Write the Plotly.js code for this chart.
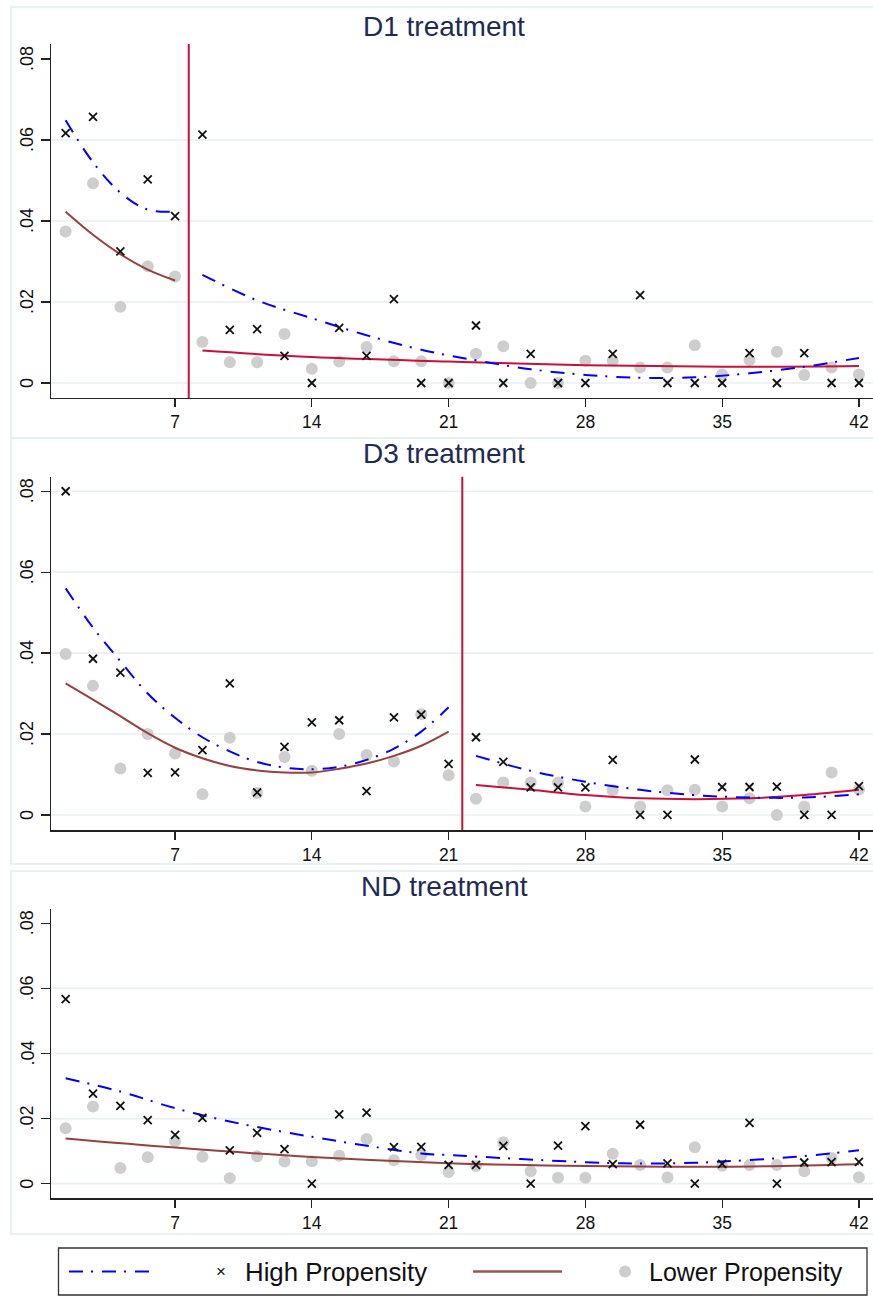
<!DOCTYPE html>
<html>
<head>
<meta charset="utf-8">
<script src="https://cdn.plot.ly/plotly-3.0.1.min.js"></script>
<style>html,body{margin:0;padding:0;background:#fff;}#chart{width:873px;height:1300px;}</style>
</head>
<body>
<div id="chart"></div>
<script>
// ---------- data ----------
const days = [1.4, 2.8, 4.2, 5.6, 7.0, 8.4, 9.8, 11.2, 12.6, 14.0, 15.4, 16.8, 18.2, 19.6, 21.0,
              22.4, 23.8, 25.2, 26.6, 28.0, 29.4, 30.8, 32.2, 33.6, 35.0, 36.4, 37.8, 39.2, 40.6, 42.0];
const xTickVals = [7, 14, 21, 28, 35, 42];
const yTickVals = [0, 0.02, 0.04, 0.06, 0.08];
const yTickText = ["0", ".02", ".04", ".06", ".08"];
const panelTitles = ["D1 treatment", "D3 treatment", "ND treatment"];
const seriesNames = ["High Propensity", "Lower Propensity"];

// D1 treatment
const d1High = [0.0617,0.0657,0.0325,0.0503,0.0412,0.0613,0.0131,0.0133,0.0067,0,0.0136,0.0067,0.0207,0,0,
                0.0142,0,0.0072,0,0,0.0072,0.0217,0,0,0,0.0074,0,0.0074,0,0];
const d1Low  = [0.0374,0.0493,0.0188,0.0288,0.0263,0.0101,0.0051,0.0051,0.0121,0.0035,0.0053,0.0089,0.0054,0.0054,0,
                0.0072,0.0091,0,0,0.0055,0.0055,0.0038,0.0038,0.0093,0.0021,0.0057,0.0077,0.0020,0.0038,0.0021];
const d1Cut = 7.7;
const d1FitPreX      = [1.4, 2.8, 4.2, 5.6, 7.0];
const d1FitHighPre   = [0.0649, 0.0545, 0.0470, 0.0428, 0.0423];
const d1FitLowPre    = [0.0423, 0.0366, 0.0318, 0.0280, 0.0253];
const d1FitHighPostX = [8.4, 11.2, 14, 16.8, 19.6, 22.4, 25.2, 28, 30.8, 33.6, 36.4, 39.2, 42];
const d1FitHighPost  = [0.0267, 0.0204, 0.0160, 0.0118, 0.0082, 0.0056, 0.0034, 0.0020, 0.0013, 0.0014, 0.0024, 0.0040, 0.0062];
const d1FitLowPostX  = [8.4, 14, 21, 28, 35, 42];
const d1FitLowPost   = [0.0080, 0.0064, 0.0053, 0.0044, 0.0040, 0.0042];

// D3 treatment
const d3High = [0.080,0.0386,0.0352,0.0104,0.0105,0.0160,0.0325,0.0056,0.0168,0.0229,0.0234,0.0059,0.0241,0.0248,0.0126,
                0.0192,0.0131,0.0068,0.0068,0.0068,0.0136,0,0,0.0137,0.0069,0.0069,0.0070,0,0,0.0071];
const d3Low  = [0.0398,0.0319,0.0115,0.0200,0.0152,0.0051,0.0191,0.0054,0.0143,0.0109,0.0200,0.0148,0.0132,0.0249,0.0098,
                0.0040,0.0080,0.0080,0.0080,0.0021,0.0061,0.0021,0.0061,0.0062,0.0021,0.0041,0,0.0021,0.0105,0.0063];
const d3Cut = 21.7;
const d3FitPreX      = [1.4, 2.8, 4.2, 5.6, 7.0, 8.4, 9.8, 11.2, 12.6, 14.0, 15.4, 16.8, 18.2, 19.6, 21.0];
const d3FitHighPre   = [0.0560, 0.0463, 0.0380, 0.0300, 0.0240, 0.0192, 0.0157, 0.0131, 0.0117, 0.0113, 0.0119, 0.0136, 0.0164, 0.0206, 0.0266];
const d3FitLowPre    = [0.0325, 0.0285, 0.0244, 0.0202, 0.0166, 0.0140, 0.0121, 0.0110, 0.0105, 0.0105, 0.0114, 0.0127, 0.0146, 0.0171, 0.0206];
const d3FitPostX     = [22.4, 25.2, 28, 30.8, 33.6, 36.4, 39.2, 42];
const d3FitHighPost  = [0.0146, 0.0109, 0.0082, 0.0062, 0.0049, 0.0043, 0.0043, 0.0051];
const d3FitLowPost   = [0.0074, 0.0062, 0.0049, 0.0041, 0.0039, 0.0041, 0.0049, 0.0062];

// ND treatment
const ndHigh = [0.0567,0.0277,0.0239,0.0195,0.0150,0.0202,0.0102,0.0156,0.0106,0,0.0213,0.0218,0.0112,0.0113,0.0058,
                0.0058,0.0116,0,0.0117,0.0177,0.0060,0.0181,0.0062,0,0.0061,0.0187,0,0.0065,0.0066,0.0067];
const ndLow  = [0.0170,0.0237,0.0048,0.0081,0.0130,0.0083,0.0017,0.0084,0.0068,0.0069,0.0086,0.0137,0.0072,0.0088,0.0036,
                0.0054,0.0127,0.0038,0.0018,0.0018,0.0092,0.0057,0.0019,0.0112,0.0055,0.0057,0.0057,0.0038,0.0079,0.0020];
const ndFitHighX = [1.4, 4.2, 7, 9.8, 14, 19.6, 21, 28, 30.8, 33.6, 35, 37.8, 40.6, 42];
const ndFitHigh  = [0.0324, 0.0283, 0.0232, 0.0191, 0.0144, 0.0093, 0.0088, 0.0066, 0.0062, 0.0064, 0.0068, 0.0078, 0.0093, 0.0103];
const ndFitLowX  = [1.4, 7, 14, 21, 28, 35, 42];
const ndFitLow   = [0.0139, 0.0111, 0.0082, 0.0063, 0.0054, 0.0052, 0.0060];

// ---------- styles ----------
const FONT = "Liberation Sans, Arial, Helvetica, sans-serif";
const BLUE = "#0000ff";
const MAROON = "#98403f";
const CRIMSON = "#c8103c";
const GRAY = "#cecece";
const DASHDOT = "14px,8px,2px,9px";

function grayPts(y, xa, ya) {
  return {x: days, y: y, xaxis: xa, yaxis: ya, type: "scatter", mode: "markers",
          marker: {symbol: "circle", size: 12, color: GRAY}, name: seriesNames[1], showlegend: false, hoverinfo: "skip"};
}
function xPts(y, xa, ya) {
  return {x: days, y: y, xaxis: xa, yaxis: ya, type: "scatter", mode: "markers",
          marker: {symbol: "x-thin", size: 8, color: "#111", line: {width: 1.8, color: "#111"}},
          name: seriesNames[0], showlegend: false, hoverinfo: "skip"};
}
function fit(x, y, xa, ya, color, dash) {
  return {x: x, y: y, xaxis: xa, yaxis: ya, type: "scatter", mode: "lines",
          line: {color: color, width: 2, dash: dash || "solid", shape: "spline", smoothing: 1},
          showlegend: false, hoverinfo: "skip"};
}

const traces = [
  grayPts(d1Low, "x", "y"),
  fit(d1FitPreX, d1FitLowPre, "x", "y", MAROON),
  fit(d1FitLowPostX, d1FitLowPost, "x", "y", CRIMSON),
  fit(d1FitPreX, d1FitHighPre, "x", "y", BLUE, DASHDOT),
  fit(d1FitHighPostX, d1FitHighPost, "x", "y", BLUE, DASHDOT),
  xPts(d1High, "x", "y"),

  grayPts(d3Low, "x2", "y2"),
  fit(d3FitPreX, d3FitLowPre, "x2", "y2", MAROON),
  fit(d3FitPostX, d3FitLowPost, "x2", "y2", CRIMSON),
  fit(d3FitPreX, d3FitHighPre, "x2", "y2", BLUE, DASHDOT),
  fit(d3FitPostX, d3FitHighPost, "x2", "y2", BLUE, DASHDOT),
  xPts(d3High, "x2", "y2"),

  grayPts(ndLow, "x3", "y3"),
  fit(ndFitLowX, ndFitLow, "x3", "y3", MAROON),
  fit(ndFitHighX, ndFitHigh, "x3", "y3", BLUE, DASHDOT),
  xPts(ndHigh, "x3", "y3")
];

const W = 873, H = 1300;
const px = v => v / W;
const py = v => 1 - v / H;

function xAxis(anchor) {
  return {domain: [px(51), 1], range: [0.65, 42.72], anchor: anchor,
          tickmode: "array", tickvals: xTickVals, ticktext: xTickVals.map(String),
          ticks: "outside", ticklen: 8, tickwidth: 1.2, tickcolor: "#222",
          showline: true, linecolor: "#222", linewidth: 1.3, mirror: false,
          showgrid: false, zeroline: false,
          tickfont: {family: FONT, size: 17.5, color: "#111"}, fixedrange: true};
}
function yAxis(anchor, top, bottom, range) {
  return {domain: [py(bottom), py(top)], range: range, anchor: anchor,
          tickmode: "array", tickvals: yTickVals, ticktext: yTickText, showticklabels: false,
          ticks: "outside", ticklen: 9, tickwidth: 1.2, tickcolor: "#222",
          showline: true, linecolor: "#222", linewidth: 1.3,
          showgrid: false, zeroline: false, fixedrange: true};
}

const shapes = [];
// panel frames
[[7, 438], [438, 864], [871, 1234]].forEach(([t, b]) => {
  shapes.push({type: "rect", xref: "paper", yref: "paper", x0: px(11), x1: px(880), y0: py(b), y1: py(t),
               line: {color: "#e4edef", width: 1.5}, fillcolor: "rgba(0,0,0,0)", layer: "below"});
});
// grid lines
const gridSets = [["x", "y", [0, 0.02, 0.04, 0.06]], ["x2", "y2", [0, 0.02, 0.04, 0.06, 0.08]], ["x3", "y3", [0, 0.02, 0.04, 0.06]]];
gridSets.forEach(([xa, ya, vals]) => {
  vals.forEach(v => shapes.push({type: "line", xref: xa + " domain", yref: ya, x0: 0, x1: 1, y0: v, y1: v,
                                 line: {color: "#e8f0f2", width: 1.6}, layer: "below"}));
});
// cut-off lines
shapes.push({type: "line", xref: "x", yref: "y domain", x0: d1Cut, x1: d1Cut, y0: 0, y1: 1, line: {color: CRIMSON, width: 2}});
shapes.push({type: "line", xref: "x2", yref: "y2 domain", x0: d3Cut, x1: d3Cut, y0: 0, y1: 1, line: {color: CRIMSON, width: 2}});
// legend box & samples
const legY = py(1271.5);
shapes.push({type: "rect", xref: "paper", yref: "paper", x0: px(58.5), x1: px(867), y0: py(1295), y1: py(1248),
             line: {color: "#333", width: 1.3}, fillcolor: "#fff"});
shapes.push({type: "line", xref: "paper", yref: "paper", x0: px(69), x1: px(153), y0: legY, y1: legY,
             line: {color: BLUE, width: 2, dash: DASHDOT}});
shapes.push({type: "line", xref: "paper", yref: "paper", x0: px(473), x1: px(562), y0: legY, y1: legY,
             line: {color: "#a05555", width: 2.5}});
shapes.push({type: "circle", xref: "paper", yref: "paper", x0: px(619), x1: px(631), y0: py(1277.5), y1: py(1265.5),
             line: {width: 0}, fillcolor: GRAY});

const annotations = [];
[[26, panelTitles[0]], [453.3, panelTitles[1]], [886.7, panelTitles[2]]].forEach(([y, t]) => {
  annotations.push({text: t, xref: "paper", yref: "paper", x: px(444), y: py(y), xanchor: "center", yanchor: "middle",
                    showarrow: false, font: {family: FONT, size: 28, color: "#1e2b55"}});
});
// rotated y tick labels
["y", "y2", "y3"].forEach(ya => {
  yTickVals.forEach((v, i) => {
    annotations.push({text: yTickText[i], xref: "paper", yref: ya, x: px(27), y: v, xanchor: "center", yanchor: "middle",
                      textangle: -90, showarrow: false, font: {family: FONT, size: 18, color: "#111"}});
  });
});
annotations.push({text: "×", xref: "paper", yref: "paper", x: px(221), y: legY, xanchor: "center", yanchor: "middle",
                  showarrow: false, font: {family: FONT, size: 17, color: "#111"}});
annotations.push({text: seriesNames[0], xref: "paper", yref: "paper", x: px(243), y: legY, xanchor: "left", yanchor: "middle",
                  showarrow: false, font: {family: FONT, size: 25.8, color: "#111"}});
annotations.push({text: seriesNames[1], xref: "paper", yref: "paper", x: px(647), y: legY, xanchor: "left", yanchor: "middle",
                  showarrow: false, font: {family: FONT, size: 25, color: "#111"}});

const layout = {
  width: W, height: H, margin: {l: 0, r: 0, t: 0, b: 0, pad: 0},
  paper_bgcolor: "#fff", plot_bgcolor: "rgba(0,0,0,0)", showlegend: false,
  font: {family: FONT},
  xaxis: xAxis("y"), xaxis2: xAxis("y2"), xaxis3: xAxis("y3"),
  yaxis: yAxis("x", 44, 398, [-0.0037, 0.0837]),
  yaxis2: yAxis("x2", 476.7, 830.3, [-0.0038, 0.0836]),
  yaxis3: yAxis("x3", 908.7, 1198.3, [-0.0045, 0.0845]),
  shapes: shapes, annotations: annotations
};

Plotly.newPlot("chart", traces, layout, {staticPlot: true, displayModeBar: false});
</script>
</body>
</html>
